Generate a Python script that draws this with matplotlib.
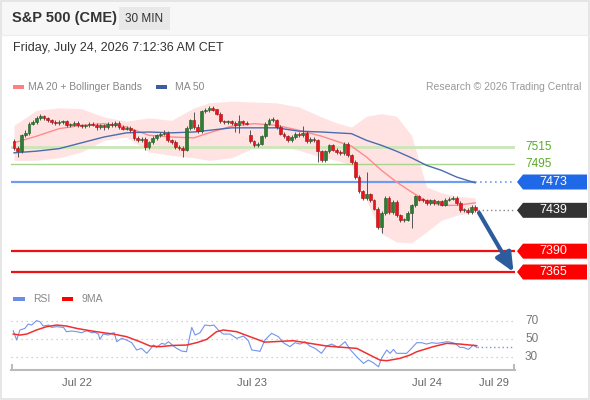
import matplotlib
matplotlib.use("Agg")
import matplotlib.pyplot as plt
from matplotlib.patches import Rectangle, Polygon
from matplotlib.lines import Line2D

plt.rcParams['font.family'] = ['Liberation Sans', 'DejaVu Sans']

# ---------------- data ----------------
opens = [7522, 7514, 7510, 7529, 7532, 7543, 7545, 7550, 7552, 7550, 7547, 7545, 7544, 7545, 7546, 7541,
         7542, 7544, 7541, 7540, 7541, 7543, 7542, 7539, 7541, 7539, 7543, 7541, 7544, 7539, 7537, 7538,
         7535, 7526, 7523, 7525, 7515, 7521, 7526, 7529, 7531, 7532, 7523, 7521, 7515, 7514, 7512, 7538,
         7547, 7539, 7534, 7558, 7559, 7562, 7560, 7555, 7546, 7545, 7546, 7544, 7541, 7546, 7544, 7529,
         7522, 7517, 7519, 7528, 7543, 7547, 7548, 7539, 7531, 7528, 7523, 7527, 7531, 7529, 7532, 7522,
         7525, 7523, 7510, 7499, 7510, 7517, 7512, 7509, 7508, 7519, 7505, 7497, 7479, 7462, 7454, 7458,
         7451, 7441, 7419, 7436, 7454, 7437, 7449, 7433, 7427, 7428, 7436, 7445, 7456, 7452, 7451, 7448,
         7451, 7448, 7450, 7446, 7452, 7453, 7454, 7448, 7439, 7440, 7437, 7443]
highs = [7525, 7516, 7531, 7535, 7545, 7547, 7552, 7555, 7554, 7551, 7549, 7547, 7547, 7548, 7547, 7544,
         7546, 7546, 7543, 7543, 7545, 7545, 7544, 7543, 7543, 7545, 7545, 7546, 7546, 7541, 7540, 7540,
         7537, 7528, 7527, 7527, 7522, 7528, 7531, 7533, 7535, 7534, 7525, 7523, 7517, 7516, 7540, 7549,
         7557, 7543, 7560, 7562, 7564, 7564, 7561, 7557, 7548, 7548, 7548, 7546, 7553, 7548, 7546, 7535,
         7524, 7521, 7530, 7545, 7550, 7551, 7549, 7541, 7533, 7530, 7529, 7533, 7533, 7540, 7534, 7527,
         7527, 7525, 7512, 7512, 7519, 7519, 7514, 7511, 7521, 7521, 7507, 7499, 7481, 7464, 7485, 7460,
         7453, 7443, 7438, 7456, 7456, 7451, 7451, 7435, 7430, 7438, 7447, 7458, 7457, 7454, 7453, 7453,
         7453, 7452, 7452, 7454, 7455, 7456, 7456, 7450, 7442, 7442, 7445, 7445]
lows = [7512, 7503, 7508, 7527, 7530, 7541, 7543, 7548, 7548, 7545, 7543, 7542, 7542, 7543, 7539, 7539,
        7540, 7539, 7538, 7538, 7539, 7540, 7536, 7537, 7536, 7537, 7539, 7539, 7537, 7535, 7535, 7533,
        7524, 7521, 7521, 7511, 7513, 7519, 7524, 7527, 7529, 7521, 7519, 7513, 7512, 7503, 7510, 7536,
        7537, 7532, 7532, 7556, 7557, 7558, 7553, 7544, 7543, 7543, 7541, 7533, 7532, 7541, 7541, 7520,
        7515, 7515, 7517, 7526, 7541, 7545, 7537, 7529, 7526, 7521, 7521, 7525, 7527, 7527, 7520, 7520,
        7521, 7497, 7497, 7497, 7508, 7510, 7507, 7506, 7506, 7503, 7495, 7477, 7460, 7451, 7452, 7449,
        7439, 7417, 7412, 7434, 7435, 7435, 7431, 7425, 7425, 7426, 7418, 7443, 7450, 7449, 7446, 7446,
        7446, 7446, 7444, 7444, 7450, 7451, 7446, 7437, 7437, 7435, 7435, 7437]
closes = [7514, 7510, 7529, 7532, 7543, 7545, 7550, 7552, 7550, 7547, 7545, 7544, 7545, 7546, 7541, 7542,
          7544, 7541, 7540, 7541, 7543, 7542, 7539, 7541, 7539, 7543, 7541, 7544, 7539, 7537, 7538, 7535,
          7526, 7523, 7525, 7515, 7521, 7526, 7529, 7531, 7532, 7523, 7521, 7515, 7514, 7512, 7538, 7547,
          7539, 7534, 7558, 7559, 7562, 7560, 7555, 7546, 7545, 7546, 7544, 7541, 7546, 7544, 7543, 7522,
          7517, 7519, 7528, 7543, 7547, 7548, 7539, 7531, 7528, 7523, 7527, 7531, 7529, 7532, 7522, 7525,
          7523, 7510, 7499, 7510, 7517, 7512, 7509, 7508, 7519, 7505, 7497, 7479, 7462, 7454, 7458, 7451,
          7441, 7419, 7436, 7454, 7437, 7449, 7433, 7427, 7428, 7436, 7445, 7456, 7452, 7451, 7448, 7451,
          7448, 7450, 7446, 7452, 7453, 7454, 7448, 7439, 7440, 7437, 7443, 7439]

# indicator samples (bar index, value)
ind_idx = [0, 6, 12, 18, 24, 30, 36, 42, 48, 52, 58, 64, 70, 76, 82, 86, 90, 94, 98, 102, 106, 110, 114, 118, 123]
ma20 = [7520, 7528, 7537, 7541, 7543, 7539, 7529, 7527, 7526, 7532, 7540, 7543, 7541, 7535, 7528, 7522,
        7516, 7503, 7487, 7473, 7461, 7450, 7445, 7445, 7448]
bb_upper = [7541, 7559, 7562, 7561, 7551, 7546, 7550, 7547, 7562, 7568, 7570, 7569, 7568, 7563, 7551, 7544,
            7539, 7552, 7555, 7552, 7529, 7467, 7460, 7456, 7454]
bb_lower = [7499, 7499, 7502, 7509, 7523, 7527, 7509, 7505, 7502, 7499, 7502, 7514, 7517, 7511, 7503, 7499,
            7493, 7451, 7411, 7401, 7400, 7413, 7427, 7433, 7437]
ma50 = [7508, 7510, 7513, 7520, 7527, 7532, 7533, 7532, 7533, 7535, 7538, 7538, 7538, 7534, 7533, 7532,
        7531, 7523, 7517, 7510, 7502, 7493, 7487, 7479, 7472]

rsi_idx = [-0.2, 0.7, 1.6, 2.9, 3.8, 4.7, 6.0, 6.9, 7.8, 9.2, 10.0, 11.4, 13.2, 14.0, 15.4, 16.7, 18.0, 19.4,
           20.7, 21.6, 22.5, 22.9, 23.8, 25.2, 26.0, 26.7, 27.4, 28.7, 30.0, 31.4, 32.7, 34.0, 35.4, 36.3,
           37.2, 38.0, 39.4, 40.3, 41.2, 42.5, 43.4, 44.7, 46.0, 47.4, 48.3, 49.6, 50.9, 52.3, 53.3, 54.5,
           55.8, 57.6, 59.4, 61.2, 62.5, 63.4, 64.7, 65.6, 66.9, 68.7, 70.5, 71.8, 73.6, 74.9, 76.3, 77.6,
           78.9, 80.3, 82.0, 83.4, 84.7, 86.5, 88.3, 89.6, 91.4, 93.2, 94.5, 95.8, 97.2, 98.0, 99.4, 100.3,
           101.2, 102.0, 103.4, 104.7, 106.0, 107.4, 108.7, 110.0, 111.4, 112.7, 114.0, 115.4, 116.3, 117.6,
           118.9, 119.8, 121.2, 122.5, 123.4]
rsi = [59.2, 48.9, 60.0, 61.8, 66.6, 65.5, 70.4, 69.2, 64.4, 65.5, 62.9, 63.7, 62.9, 58.1, 58.9, 58.1, 57.0,
       59.2, 57.0, 57.4, 55.5, 49.6, 55.5, 54.4, 56.3, 57.0, 47.0, 50.7, 48.9, 45.9, 37.8, 39.6, 34.1, 38.5,
       43.3, 40.7, 45.2, 44.1, 47.0, 42.2, 39.6, 36.6, 35.9, 62.9, 54.4, 57.0, 65.5, 64.8, 65.5, 60.0, 55.5,
       55.5, 50.7, 53.3, 48.1, 37.8, 37.0, 36.3, 48.9, 56.3, 52.6, 45.9, 41.5, 45.9, 44.4, 47.0, 42.2, 39.6,
       34.1, 42.2, 44.4, 40.7, 47.0, 38.5, 30.3, 22.9, 26.6, 23.7, 19.2, 28.5, 37.8, 34.1, 38.5, 34.1, 34.1,
       34.1, 39.6, 45.9, 45.9, 44.4, 45.9, 45.2, 45.9, 47.0, 46.6, 45.2, 40.7, 40.7, 38.5, 43.3, 40.7]
ma9_idx = [-0.2, 1.6, 3.4, 6.0, 8.7, 11.4, 14.0, 16.7, 20.3, 23.8, 26.5, 30.0, 33.6, 36.3, 38.9, 42.5, 46.0,
           48.7, 51.4, 54.0, 55.8, 59.4, 62.9, 66.9, 69.2, 74.5, 78.9, 83.4, 87.8, 91.4, 94.0, 97.6, 99.4,
           102.9, 105.6, 107.4, 111.8, 115.4, 118.9, 123.4]
ma9 = [55.5, 54.4, 55.5, 60.0, 63.7, 65.5, 64.4, 61.8, 59.2, 57.0, 55.5, 52.6, 47.0, 42.2, 41.5, 42.9, 43.3,
       45.9, 49.6, 58.1, 60.0, 58.1, 52.6, 46.5, 47.0, 48.1, 45.2, 42.2, 40.7, 39.6, 34.1, 26.6, 25.9, 28.5,
       32.2, 35.9, 41.5, 45.2, 44.4, 42.6]

pivot = 7473
resist = [7515, 7495]
supports = [7390, 7365]
last_price = 7439
target = 7365
rsi_levels = [70, 50, 30]
day_ticks = [16.8, 63.5, 110.1, 128.0]
day_labels = ['Jul 22', 'Jul 23', 'Jul 24', 'Jul 29']

# ---------------- figure ----------------
W, H = 590, 400
fig = plt.figure(figsize=(W / 100, H / 100), dpi=100)
fig.patch.set_facecolor('white')

def fx(px):
    return px / W

def fy(py):
    return 1 - py / H

# header background and frame
fig.add_artist(Rectangle((0, fy(35)), 1, 35 / H, transform=fig.transFigure, fc='#f7f7f7', ec='none', zorder=0))
fig.add_artist(Line2D([0, 1], [fy(35), fy(35)], transform=fig.transFigure, color='#ececec', lw=0.8))
fig.add_artist(Rectangle((0.001, 0.002), 0.997, 0.996, transform=fig.transFigure, fc='none', ec='#e2e2e2', lw=1.2))

fig.text(fx(12), fy(18), 'S&P 500 (CME)', fontsize=10.5, fontweight='bold', color='#333333', va='center')
fig.add_artist(Rectangle((fx(119), fy(30)), fx(170) - fx(119), 23 / H, transform=fig.transFigure,
                         fc='#e8e8e8', ec='none'))
fig.text(fx(144.5), fy(18.5), '30 MIN', fontsize=8.5, color='#333333', va='center', ha='center')
fig.text(fx(13), fy(48), 'Friday, July 24, 2026 7:12:36 AM CET', fontsize=9, color='#333333', va='center')

# legends
fig.add_artist(Rectangle((fx(13), fy(89)), 11 / W, 4.5 / H, transform=fig.transFigure, fc='#ff8080', ec='none'))
fig.text(fx(28), fy(86.5), 'MA 20 + Bollinger Bands', fontsize=7.5, color='#888888', va='center')
fig.add_artist(Rectangle((fx(156), fy(89)), 11 / W, 4.5 / H, transform=fig.transFigure, fc='#3a5ea0', ec='none'))
fig.text(fx(175), fy(86.5), 'MA 50', fontsize=7.5, color='#888888', va='center')
fig.text(fx(581), fy(86.5), 'Research \u00a9 2026 Trading Central', fontsize=7.5, color='#999999',
         va='center', ha='right')

fig.add_artist(Rectangle((fx(13), fy(301)), 12 / W, 4.5 / H, transform=fig.transFigure, fc='#6a8de6', ec='none'))
fig.text(fx(33), fy(299), 'RSI', fontsize=7.5, color='#888888', va='center')
fig.add_artist(Rectangle((fx(62), fy(301)), 11 / W, 4.5 / H, transform=fig.transFigure, fc='#ff0000', ec='none'))
fig.text(fx(82), fy(299), '9MA', fontsize=7.5, color='#888888', va='center')

# ---------------- main price axes ----------------
XMIN, XMAX = -0.8, 133.6
ax = fig.add_axes([fx(11), fy(285), (515 - 11) / W, (285 - 95) / H])
ax.set_xlim(XMIN, XMAX)
ax.set_ylim(7349.4, 7577.4)
ax.axis('off')

ax.fill_between(ind_idx, bb_lower, bb_upper, color='#ffe3e3', lw=0, zorder=1)
ax.plot(ind_idx, ma20, color='#ff8a8a', lw=1.0, zorder=3)
ax.plot(ind_idx, ma50, color='#4a6cb0', lw=1.0, zorder=3)

ax.axhline(resist[0], color='#cbe6b8', lw=2.0, zorder=2)
ax.axhline(resist[1], color='#a8d48e', lw=1.0, zorder=2)
n = len(closes)
ax.plot([XMIN, n - 1], [pivot, pivot], color='#6f9cf0', lw=1.6, zorder=2, solid_capstyle='butt')
ax.plot([n - 1, XMAX], [pivot, pivot], color='#6f9cf0', lw=1.2, ls=(0, (1, 2)), zorder=2)
for s in supports:
    ax.axhline(s, color='#ee1111', lw=1.6, zorder=2)
ax.plot([n - 0.3, XMAX], [last_price, last_price], color='#888888', lw=1.0, ls=(0, (1, 2)), zorder=2)

for i in range(n):
    o, h, l, c = opens[i], highs[i], lows[i], closes[i]
    up = c >= o
    fc = '#2e7d32' if up else '#e8141c'
    ec = '#1d5a21' if up else '#a80d12'
    ax.vlines(i, l, h, color='#555555', lw=0.7, zorder=4)
    bottom = min(o, c)
    height = max(abs(c - o), 0.8)
    ax.add_patch(Rectangle((i - 0.37, bottom), 0.74, height, fc=fc, ec=ec, lw=0.4, zorder=5))

ax.annotate('', xy=(133.2, target), xytext=(124.0, 7436),
            arrowprops=dict(arrowstyle='-|>,head_length=0.8,head_width=0.36', color='#2c5c9c', lw=3.0,
                            mutation_scale=14, shrinkA=0, shrinkB=0),
            annotation_clip=False, zorder=6)

def price_fig_y(p):
    disp = ax.transData.transform((0, p))
    return fig.transFigure.inverted().transform(disp)[1]

def tag(p, color, label):
    y = price_fig_y(p)
    h = 7.5 / H
    x0, x1, x2 = fx(517), fx(523), fx(587)
    fig.add_artist(Polygon([[x0, y], [x1, y + h], [x2, y + h], [x2, y - h], [x1, y - h]], closed=True,
                           transform=fig.transFigure, fc=color, ec='none'))
    fig.text(fx(553), y, label, color='white', fontsize=9, ha='center', va='center')

for r in resist:
    fig.text(fx(525), price_fig_y(r), str(r), color='#5aaa28', fontsize=8.5, va='center')
tag(pivot, '#1f68e8', str(pivot))
tag(last_price, '#333333', str(last_price))
for s in supports:
    tag(s, '#ff0000', str(s))

# ---------------- RSI axes ----------------
rax = fig.add_axes([fx(11), fy(370), (515 - 11) / W, 60 / H])
rax.set_xlim(XMIN, XMAX)
rax.set_ylim(15.6, 82.2)
for s in ['top', 'left', 'right']:
    rax.spines[s].set_visible(False)
rax.spines['bottom'].set_color('#bbbbbb')
rax.spines['bottom'].set_linewidth(1.5)
rax.set_yticks([])
rax.set_xticks(day_ticks)
rax.set_xticklabels(day_labels, fontsize=8, color='#666666')
rax.tick_params(axis='x', length=0, pad=6)
rax.patch.set_alpha(0)

for lv in rsi_levels:
    rax.axhline(lv, color='#c4c4c4', lw=0.9, ls=(0, (1, 3)), zorder=1)
    fig.text(fx(525), fig.transFigure.inverted().transform(rax.transData.transform((0, lv)))[1],
             str(lv), color='#777777', fontsize=8.5, va='center')
rax.plot(rsi_idx, rsi, color='#7394ea', lw=0.8, zorder=3)
rax.plot([rsi_idx[-1], XMAX], [rsi[-1], rsi[-1]], color='#7394ea', lw=1.0, ls=(0, (1, 2)), zorder=3)
rax.plot(ma9_idx, ma9, color='#f03030', lw=1.1, zorder=4)

# end ticks of the time axis
for px in (11.7, 514.3):
    fig.add_artist(Line2D([fx(px), fx(px)], [fy(370), fy(365)], transform=fig.transFigure,
                          color='#bbbbbb', lw=1.5))

fig.savefig('out.png', dpi=100)
